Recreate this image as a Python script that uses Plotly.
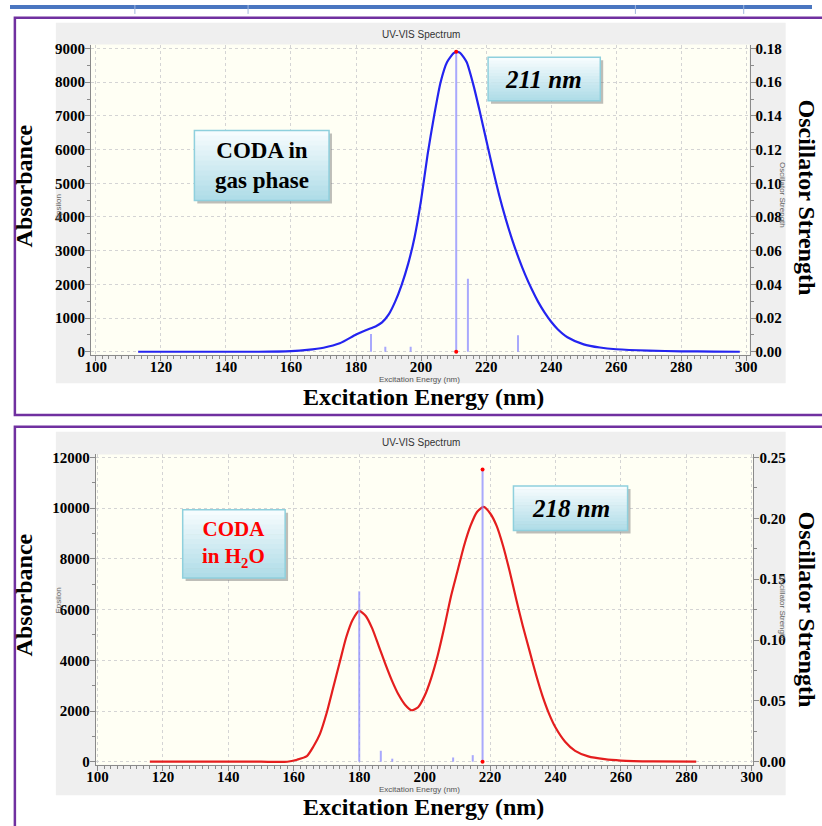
import plotly.graph_objects as go

# ---------------- data ----------------
gas_nm = [113, 120, 130, 140, 150, 160, 165, 170, 175, 180, 183, 186, 188, 190, 192, 194, 196, 198,
          200, 202, 204, 206, 208, 210, 211, 212, 214, 216, 218, 220, 222, 224, 226, 228, 230, 232,
          234, 236, 238, 240, 242, 245, 250, 255, 260, 270, 280, 290, 298]
gas_eps = [0, 0, 0, 0, 0, 20, 55, 120, 250, 510, 640, 750, 870, 1100, 1480, 1980, 2600, 3400,
           4500, 5850, 7000, 8000, 8600, 8860, 8900, 8870, 8600, 7950, 7150, 6300, 5450, 4650, 3950, 3330, 2780, 2290,
           1860, 1480, 1160, 890, 670, 430, 220, 125, 75, 32, 14, 5, 0]
gas_stick_nm = [184.6, 189.0, 196.8, 210.8, 214.4, 229.8]
gas_stick_f = [0.0105, 0.003, 0.003, 0.178, 0.0434, 0.0098]

h2o_nm = [116, 130, 140, 150, 158, 161, 164, 166, 168, 170, 172, 174, 176, 178, 180, 182, 184, 186,
          188, 190, 192, 194, 196, 198, 200, 202, 204, 206, 208, 210, 212, 214, 216, 218, 220, 222,
          224, 226, 228, 230, 232, 234, 236, 238, 240, 243, 246, 250, 255, 260, 270, 283]
h2o_eps = [0, 0, 0, 0, 0, 80, 220, 600, 1100, 1900, 2900, 3900, 4900, 5600, 5950, 5750, 5250, 4550,
           3850, 3200, 2650, 2250, 2030, 2150, 2600, 3300, 4200, 5300, 6500, 7500, 8500, 9300, 9850, 10050, 9800, 9300,
           8500, 7500, 6400, 5350, 4400, 3450, 2600, 1900, 1350, 780, 430, 210, 100, 45, 10, 0]
h2o_stick_nm = [180.0, 186.6, 190.1, 208.7, 214.7, 217.7]
h2o_stick_f = [0.140, 0.009, 0.0025, 0.0035, 0.0054, 0.240]

x_ticks = [100, 120, 140, 160, 180, 200, 220, 240, 260, 280, 300]

W, H = 822, 826
def P(x): return x / W
def Q(y): return 1 - y / H

SERIF = "Liberation Serif"

fig = go.Figure()

def sticks(nm, f):
    xs, ys = [], []
    for a, b in zip(nm, f):
        xs += [a, a, None]
        ys += [0, b, None]
    return xs, ys

# top panel
sx, sy = sticks(gas_stick_nm, gas_stick_f)
fig.add_trace(go.Scatter(x=sx, y=sy, mode="lines", line=dict(color="rgba(140,140,255,0.75)", width=2),
                         xaxis="x", yaxis="y2", hoverinfo="skip"))
fig.add_trace(go.Scatter(x=gas_nm, y=gas_eps, mode="lines", line=dict(color="#2424f0", width=2.2, shape="spline", smoothing=0.6),
                         xaxis="x", yaxis="y"))
imax = gas_stick_f.index(max(gas_stick_f))
fig.add_trace(go.Scatter(x=[gas_stick_nm[imax], gas_stick_nm[imax]], y=[0, gas_stick_f[imax]], mode="markers",
                         marker=dict(color="red", size=4), xaxis="x", yaxis="y2"))

# bottom panel
sx, sy = sticks(h2o_stick_nm, h2o_stick_f)
fig.add_trace(go.Scatter(x=sx, y=sy, mode="lines", line=dict(color="rgba(140,140,255,0.75)", width=2),
                         xaxis="x2", yaxis="y4", hoverinfo="skip"))
fig.add_trace(go.Scatter(x=h2o_nm, y=h2o_eps, mode="lines", line=dict(color="#e41e1e", width=2.2, shape="spline", smoothing=0.6),
                         xaxis="x2", yaxis="y3"))
imax = h2o_stick_f.index(max(h2o_stick_f))
fig.add_trace(go.Scatter(x=[h2o_stick_nm[imax], h2o_stick_nm[imax]], y=[0, h2o_stick_f[imax]], mode="markers",
                         marker=dict(color="red", size=4), xaxis="x2", yaxis="y4"))

tickfont = dict(family=SERIF, size=15, color="black", weight="bold")
axcol = "#8a8a8a"
gridcol = "#d4d4d4"

def xaxis(domain, rng, anchor):
    return dict(domain=domain, range=rng, anchor=anchor, tickvals=x_ticks, tickfont=tickfont,
                showline=True, linecolor=axcol, linewidth=1, ticks="outside", ticklen=5, tickcolor=axcol,
                ticklabelstandoff=-7,
                showgrid=True, gridcolor=gridcol, griddash="dot", zeroline=False,
                minor=dict(dtick=2, ticklen=3, tickcolor=axcol, showgrid=False, ticks="outside"))

def yleft(domain, rng, dt, anchor):
    return dict(domain=domain, range=rng, anchor=anchor, dtick=dt, tick0=0, tickformat="d", tickfont=tickfont,
                showline=True, linecolor=axcol, linewidth=1, ticks="outside", ticklen=5, tickcolor=axcol,
                ticklabelstandoff=-3,
                showgrid=True, gridcolor=gridcol, griddash="dot", zeroline=False,
                minor=dict(dtick=dt / 2, ticklen=3, tickcolor=axcol, showgrid=False, ticks="outside"))

def yright(over, rng, dt, anchor):
    return dict(overlaying=over, side="right", range=rng, anchor=anchor, dtick=dt, tick0=0, tickformat=".2f",
                tickfont=tickfont, showline=True, linecolor=axcol, linewidth=1, ticks="outside", ticklen=5,
                tickcolor=axcol, showgrid=False, zeroline=False, ticklabelstandoff=-3,
                minor=dict(dtick=dt / 2, ticklen=3, tickcolor=axcol, showgrid=False, ticks="outside"))

# pixel calibration
top_y0, top_ytop = 351, 44      # pixel for 0 and 9000
top_pb, top_pt = 354, 40
k1 = 9000 / (top_y0 - top_ytop)
top_rng = [-(top_pb - top_y0) * k1, 9000 + (top_ytop - top_pt) * k1]
bot_y0, bot_ytop = 766, 458
bot_pb, bot_pt = 769, 455
k2 = 12000 / (bot_y0 - bot_ytop)
bot_rng = [-(bot_pb - bot_y0) * k2, 12000 + (bot_ytop - bot_pt) * k2]

fig.update_layout(
    xaxis=xaxis([P(83), P(758)], [98.5, 301], "y"),
    yaxis=yleft([Q(top_pb), Q(top_pt)], top_rng, 1000, "x"),
    yaxis2=yright("y", [r * 0.18 / 9000 for r in top_rng], 0.02, "x"),
    xaxis2=xaxis([P(88), P(762)], [99.5, 300.5], "y3"),
    yaxis3=yleft([Q(bot_pb), Q(bot_pt)], bot_rng, 2000, "x2"),
    yaxis4=yright("y3", [r * 0.25 / 12000 for r in bot_rng], 0.05, "x2"),
)

shapes = []
def rect(x0, y0, x1, y1, fill=None, line=None, lw=0, layer="below"):
    d = dict(type="rect", xref="paper", yref="paper", x0=P(x0), x1=P(x1), y0=Q(y1), y1=Q(y0), layer=layer)
    d["fillcolor"] = fill if fill else "rgba(0,0,0,0)"
    d["line"] = dict(color=line if line else "rgba(0,0,0,0)", width=lw)
    shapes.append(d)

# top blue rule
rect(0, 0, 822, 4, fill="#4a76c0")
for xv in [128, 244, 641, 752]:
    shapes.append(dict(type="line", xref="paper", yref="paper", x0=P(xv), x1=P(xv), y0=Q(0), y1=Q(9),
                       line=dict(color="#9fb6dd", width=1), layer="below"))
# gray panels and cream plot areas
rect(47, 18, 795, 383, fill="#efefef")
rect(47, 432, 795, 800, fill="#efefef")
rect(83, 40, 758, 354, fill="#fffff4")
rect(88, 455, 762, 769, fill="#fffff4")
# purple frames
rect(5, 13, 840, 415, line="#7030a0", lw=2.5)
rect(5, 427, 840, 850, line="#7030a0", lw=2.5)

def grad_box(x0, y0, x1, y1):
    rect(x0 + 3, y0 + 3, x1 + 3, y1 + 3, fill="rgba(110,110,110,0.45)", layer="above")
    n = 14
    c0 = (246, 252, 254)
    c1 = (176, 221, 232)
    for i in range(n):
        t = i / (n - 1)
        c = tuple(int(c0[j] + (c1[j] - c0[j]) * t) for j in range(3))
        ya = y0 + (y1 - y0) * i / n
        yb = y0 + (y1 - y0) * (i + 1) / n + 0.6
        rect(x0, ya, x1, min(yb, y1), fill="rgb(%d,%d,%d)" % c, layer="above")
    rect(x0, y0, x1, y1, line="#8fd0dd", lw=1.5, layer="above")

grad_box(189, 127, 327, 198)
grad_box(490, 53, 605, 97)
grad_box(177, 511, 282, 580)
grad_box(516, 487, 633, 532)

fig.update_layout(shapes=shapes)

ann = []
def text(x, y, s, size, color="black", family=SERIF, angle=0, weight="normal", style="normal"):
    ann.append(dict(x=P(x), y=Q(y), xref="paper", yref="paper", text=s, showarrow=False, textangle=angle,
                    xanchor="center", yanchor="middle",
                    font=dict(family=family, size=size, color=color, weight=weight, style=style)))

text(258, 162, "CODA in<br>gas phase", 23, weight="bold")
text(547, 75, "211 nm", 25, weight="bold", style="italic")
text(229.5, 545.5, "CODA<br>in H<sub>2</sub>O", 21, color="#ff0000", weight="bold")
text(574.5, 509.5, "218 nm", 25, weight="bold", style="italic")

for yc, yb in [(30, 397), (443, 812)]:
    text(421, yc, "UV-VIS Spectrum", 10, color="#333333", family="Liberation Sans")
    text(424, yb, "Excitation Energy (nm)", 24, weight="bold")
text(420, 379, "Excitation Energy (nm)", 8, color="#555555", family="Liberation Sans")
text(420, 794, "Excitation Energy (nm)", 8, color="#555555", family="Liberation Sans")
for yc in [183, 597]:
    text(14, yc, "Absorbance", 24, weight="bold", angle=-90)
for yc in [195, 612]:
    text(817, yc, "Oscillator Strength", 24, weight="bold", angle=90)
text(50, 205, "Epsilon", 8, color="#666666", family="Liberation Sans", angle=-90)
text(50, 603, "Epsilon", 8, color="#666666", family="Liberation Sans", angle=-90)
text(792, 192, "Oscillator Strength", 8, color="#666666", family="Liberation Sans", angle=90)
text(792, 610, "Oscillator Strength", 8, color="#666666", family="Liberation Sans", angle=90)

fig.update_layout(annotations=ann, width=W, height=H, margin=dict(l=0, r=0, t=0, b=0),
                  paper_bgcolor="white", plot_bgcolor="rgba(0,0,0,0)", showlegend=False)

fig.write_html("out.html")
